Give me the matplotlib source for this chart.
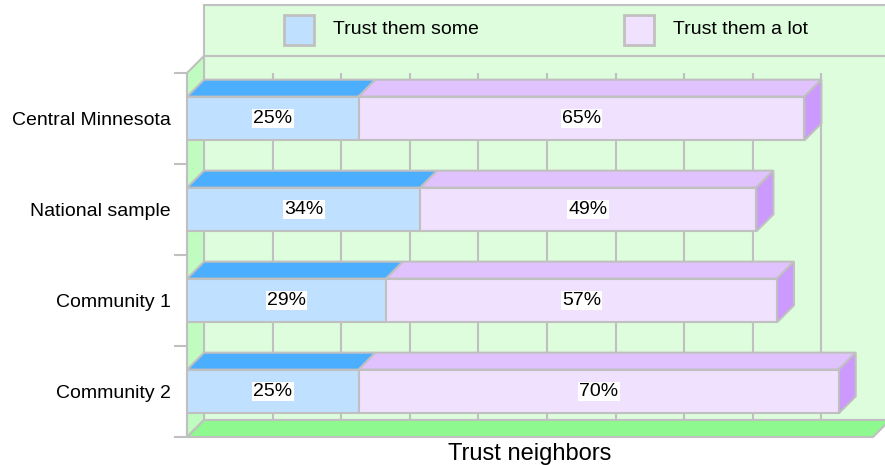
import matplotlib
matplotlib.use('Agg')
import matplotlib.pyplot as plt
from matplotlib.patches import Polygon, Rectangle

plt.rcParams['font.family'] = ['Liberation Sans', 'DejaVu Sans']

categories = ['Central Minnesota', 'National sample', 'Community 1', 'Community 2']
some = [25, 34, 29, 25]
lot = [65, 49, 57, 70]
series_names = ['Trust them some', 'Trust them a lot']
grid_x = [10, 20, 30, 40, 50, 60, 70, 80, 90]
xlabel = 'Trust neighbors'

W, H = 885, 465
gray = '#c0c0c0'
wall_c = '#ddfddd'
side_wall_c = '#c0fcc0'
floor_c = '#8ef98e'
front_c = ['#bfe0ff', '#f0e1ff']
top_c = ['#4baeff', '#e0c2ff']
side_c = '#cc99ff'
lw = 1.5

fig = plt.figure(figsize=(W / 100, H / 100), dpi=100)
# front plane of the chart, in pixels
ax_l, ax_t, ax_r, ax_b = 187, 73, 873, 437
ax = fig.add_axes([ax_l / W, 1 - ax_b / H, (ax_r - ax_l) / W, (ax_b - ax_t) / H])
ax.set_xlim(0, 100)
ax.set_ylim(len(categories) - 0.5, -0.5)
ax.patch.set_visible(False)

# 3d depth in data units (17 px each way)
depth = 17
dx = 100 * depth / (ax_r - ax_l)
dy = len(categories) * depth / (ax_b - ax_t)
y_top = -0.5
y_bot = len(categories) - 0.5
wall_top = -0.5 - len(categories) * (ax_t - 5) / (ax_b - ax_t)

# back wall
ax.add_patch(Polygon([(dx, y_bot - dy), (dx, wall_top), (120, wall_top), (120, y_bot - dy)],
                     closed=True, facecolor=wall_c, edgecolor=gray, lw=lw, clip_on=False, zorder=1))
ax.plot([dx, 120], [y_top - dy, y_top - dy], color=gray, lw=lw, clip_on=False, zorder=1.5)
ax.vlines([g + dx for g in grid_x], y_top - dy, y_bot - dy, colors=gray, lw=lw, zorder=1.5)

# left side wall
ax.add_patch(Polygon([(0, y_top), (dx, y_top - dy), (dx, y_bot - dy), (0, y_bot)],
                     closed=True, facecolor=side_wall_c, edgecolor=gray, lw=lw, clip_on=False, zorder=2))
# floor
ax.add_patch(Polygon([(0, y_bot), (dx, y_bot - dy), (100 + dx, y_bot - dy), (100, y_bot)],
                     closed=True, facecolor=floor_c, edgecolor=gray, lw=lw, clip_on=False, zorder=2))

h = 0.48
for i, (s, l) in enumerate(zip(some, lot)):
    y0 = i - h / 2
    y1 = i + h / 2
    segs = [(0, s), (s, s + l)]
    for k, (a, b) in enumerate(segs):
        ax.add_patch(Polygon([(a, y0), (b, y0), (b + dx, y0 - dy), (a + dx, y0 - dy)], closed=True,
                             facecolor=top_c[k], edgecolor=gray, lw=lw, clip_on=False, zorder=3))
        ax.barh(i, b - a, left=a, height=h, color=front_c[k], edgecolor=gray, lw=lw, zorder=4)
        ax.text((a + b) / 2, i, f'{b - a}%', ha='center', va='center', fontsize=14, zorder=6,
                bbox=dict(facecolor='white', edgecolor='none', pad=1))
    e = s + l
    ax.add_patch(Polygon([(e, y0), (e + dx, y0 - dy), (e + dx, y1 - dy), (e, y1)], closed=True,
                         facecolor=side_c, edgecolor=gray, lw=lw, clip_on=False, zorder=3))

# axes styling
for sp in ['top', 'right', 'bottom']:
    ax.spines[sp].set_visible(False)
ax.spines['left'].set_color(gray)
ax.spines['left'].set_linewidth(lw)
ax.spines['left'].set_zorder(5)
ax.set_yticks(range(len(categories)))
ax.set_yticklabels(categories, fontsize=14)
ax.set_yticks([i - 0.5 for i in range(len(categories) + 1)], minor=True)
ax.tick_params(axis='y', which='major', length=0, pad=11.5)
ax.tick_params(axis='y', which='minor', length=9.5, width=lw, color=gray)
ax.set_xticks([])
ax.set_xlabel(xlabel, fontsize=17, labelpad=4)

# legend
leg_x = [284, 624]
for k, name in enumerate(series_names):
    fig.add_artist(Rectangle((leg_x[k] / W, 1 - 45 / H), 30 / W, 30 / H, transform=fig.transFigure,
                             facecolor=front_c[k], edgecolor=gray, lw=2))
    fig.text((leg_x[k] + 49) / W, 1 - 30 / H, name, ha='left', va='center', fontsize=14)

fig.savefig('out.png', dpi=100, facecolor='white')
